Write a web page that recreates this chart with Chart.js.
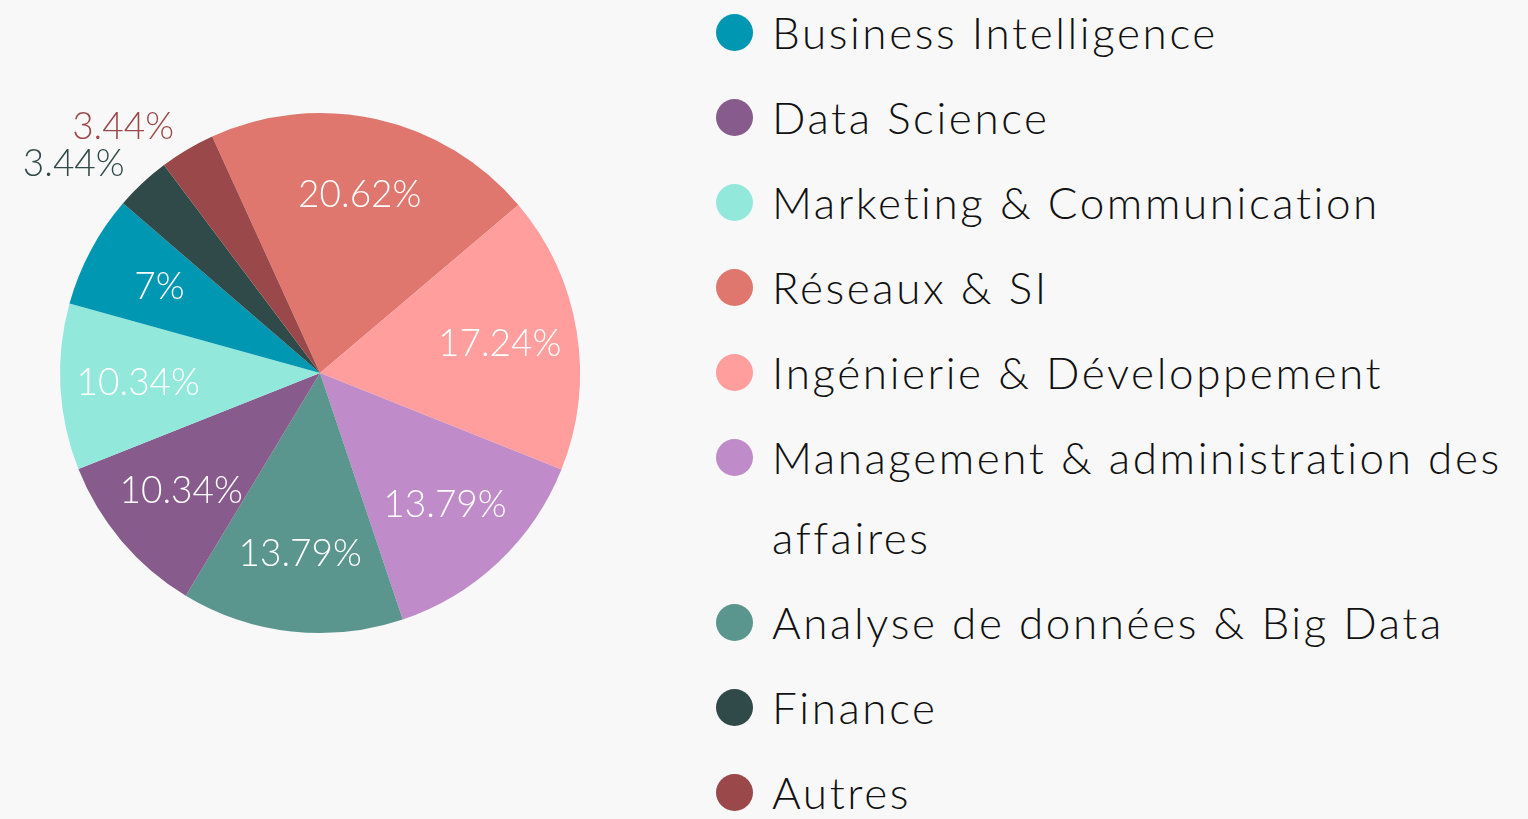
<!DOCTYPE html>
<html lang="fr">
<head>
<meta charset="utf-8">
<script src="https://cdn.jsdelivr.net/npm/chart.js@4"></script>
<style>
    html, body { margin: 0; padding: 0; background: #f8f8f8; }
    body { width: 1528px; height: 819px; position: relative; overflow: hidden; font-family: 'Lato', sans-serif; }
    #pieBox { position: absolute; left: 0; top: 0; width: 640px; height: 746px; }
    #legend { position: absolute; left: 716px; top: -8px; margin: 0; padding: 0; list-style: none; }
    #legend li { display: flex; align-items: flex-start; margin-bottom: 5px; }
    #legend .dot { flex: none; width: 37px; height: 37px; border-radius: 50%; margin-top: 22px; margin-right: 19px; }
    #legend .txt { width: 760px; font-size: 44px; line-height: 80px; font-weight: 300; letter-spacing: 2.6px; color: #111; }
</style>
</head>
<body>
<div id="pieBox"><canvas id="pieChart"></canvas></div>
<ul id="legend"></ul>
<script>
// Pie slices, clockwise from the top
const categories = ['Réseaux & SI', 'Ingénierie & Développement', 'Management & administration des affaires',
    'Analyse de données & Big Data', 'Data Science', 'Marketing & Communication',
    'Business Intelligence', 'Finance', 'Autres'];
const shares = [20.62, 17.24, 13.79, 13.79, 10.34, 10.34, 7, 3.44, 3.44];
const colors = ['#e0776e', '#ff9e9c', '#bf8bc8', '#5a968e', '#875b8c', '#93e8dc', '#0097b2', '#2f4a48', '#9a4849'];

// Order of the legend entries
const legendOrder = ['Business Intelligence', 'Data Science', 'Marketing & Communication', 'Réseaux & SI',
    'Ingénierie & Développement', 'Management & administration des affaires',
    'Analyse de données & Big Data', 'Finance', 'Autres'];

// percent labels on the slices, small ones outside
const percentLabels = {
    id: 'percentLabels',
    afterDatasetsDraw(chart) {
        const ctx = chart.ctx;
        const arcs = chart.getDatasetMeta(0).data;
        ctx.save();
        ctx.font = '300 37px Lato, sans-serif';
        ctx.textBaseline = 'middle';
        arcs.forEach((arc, i) => {
            const p = arc.getProps(['x', 'y', 'startAngle', 'endAngle', 'outerRadius'], true);
            const mid = (p.startAngle + p.endAngle) / 2;
            const text = `${shares[i]}%`;
            if (shares[i] < 5) {
                const r = p.outerRadius * 1.1;
                ctx.fillStyle = colors[i];
                ctx.textAlign = 'right';
                ctx.fillText(text, p.x + Math.cos(mid) * r, p.y + Math.sin(mid) * r);
            } else {
                const r = p.outerRadius * 0.7;
                ctx.fillStyle = '#ffffff';
                ctx.textAlign = 'center';
                ctx.fillText(text, p.x + Math.cos(mid) * r, p.y + Math.sin(mid) * r);
            }
        });
        ctx.restore();
    }
};

const pieCtx = document.getElementById('pieChart').getContext('2d');
new Chart(pieCtx, {
    type: 'pie',
    data: {
        labels: categories,
        datasets: [{
            data: shares,
            backgroundColor: colors,
            borderWidth: 0
        }]
    },
    options: {
        responsive: true,
        maintainAspectRatio: false,
        animation: false,
        rotation: -24.5,
        layout: { padding: 60 },
        plugins: {
            legend: { display: false },
            tooltip: { enabled: false }
        }
    },
    plugins: [percentLabels]
});

// HTML legend
const legendEl = document.getElementById('legend');
legendOrder.forEach(name => {
    const i = categories.indexOf(name);
    const li = document.createElement('li');
    const dot = document.createElement('span');
    dot.className = 'dot';
    dot.style.background = colors[i];
    const txt = document.createElement('span');
    txt.className = 'txt';
    txt.textContent = name;
    li.appendChild(dot);
    li.appendChild(txt);
    legendEl.appendChild(li);
});
</script>
</body>
</html>
